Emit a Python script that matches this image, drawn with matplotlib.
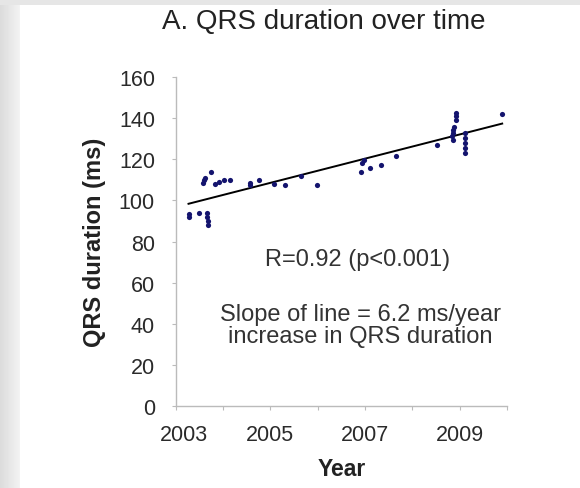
import numpy as np
import matplotlib
matplotlib.use("Agg")
import matplotlib.pyplot as plt
import matplotlib.transforms as mtransforms

# QRS duration readings (decimal year, ms)
years = [2003.27, 2003.28, 2003.50, 2003.66, 2003.67, 2003.68, 2003.68,
         2003.57, 2003.59, 2003.62, 2003.75, 2003.84, 2003.92, 2004.03, 2004.14,
         2004.56, 2004.58, 2004.75, 2005.07, 2005.31, 2005.64, 2005.98,
         2006.91, 2006.94, 2006.97, 2007.11, 2007.34, 2007.65, 2008.53,
         2008.93, 2008.93, 2008.93, 2008.88, 2008.86, 2008.85, 2008.84, 2008.85,
         2009.11, 2009.11, 2009.11, 2009.11, 2009.11, 2009.90]
qrs = [93.2, 92.0, 94.0, 94.0, 92.0, 90.0, 88.0,
       108.6, 110.0, 111.0, 113.7, 107.8, 108.9, 110.2, 109.9,
       107.3, 108.5, 109.9, 107.8, 107.3, 112.1, 107.3,
       113.7, 118.3, 119.9, 115.9, 117.5, 121.8, 127.2,
       142.6, 141.0, 139.3, 136.0, 134.5, 132.9, 131.2, 129.6,
       132.9, 130.4, 128.0, 125.6, 123.2, 142.2]

year_ticks = [2003, 2004, 2005, 2006, 2007, 2008, 2009, 2010]
year_labels = ["2003", "", "2005", "", "2007", "", "2009", ""]
qrs_ticks = [0, 20, 40, 60, 80, 100, 120, 140, 160]

plt.rcParams['font.family'] = ['Liberation Sans', 'DejaVu Sans']

fig = plt.figure(figsize=(5.8, 4.89), dpi=100)
fig.patch.set_facecolor('white')

# grey page border (left strip + top strip)
bg = fig.add_axes([0, 0, 1, 1], zorder=-10)
bg.set_axis_off()
grad = np.linspace(0.86, 0.95, 20)
bg.imshow(np.tile(grad, (2, 1)), cmap='gray', vmin=0, vmax=1, aspect='auto',
          extent=[0, 20 / 580, 0, 1], transform=bg.transAxes)
bg.add_patch(plt.Rectangle((0, 1 - 6 / 489), 1, 6 / 489, transform=bg.transAxes,
                           color='#e6e6e6', lw=0))
bg.set_xlim(0, 1)
bg.set_ylim(0, 1)

ax = fig.add_axes([0.303, 0.168, 0.571, 0.672])
ax.scatter(years, qrs, s=14, color='#14146e', zorder=3, linewidths=0)

# least-squares line through the points
coef = np.polyfit(years, qrs, 1)
xs = np.array([min(years), max(years)])
ax.plot(xs, np.polyval(coef, xs), color='black', lw=1.4, zorder=2)

ax.set_xlim(2003, 2010)
ax.set_ylim(0, 160)
ax.set_xticks(year_ticks)
ax.set_xticklabels(year_labels)
ax.set_yticks(qrs_ticks)
for side in ['top', 'right']:
    ax.spines[side].set_visible(False)
for side in ['left', 'bottom']:
    ax.spines[side].set_color('#bbbbbb')
    ax.spines[side].set_linewidth(1.0)
ax.tick_params(axis='both', colors='#bbbbbb', labelcolor='#2a2a2a',
               labelsize=15.5, length=3)
ax.tick_params(axis='y', pad=12)
ax.tick_params(axis='x', pad=10)

# first year label sits a bit right of its tick in the original
first = ax.get_xticklabels()[0]
first.set_transform(first.get_transform() +
                    mtransforms.ScaledTranslation(8 / 100, 0, fig.dpi_scale_trans))

ax.set_xlabel('Year', fontsize=16.5, fontweight='bold', color='#222222', labelpad=9)
ax.set_ylabel('QRS duration (ms)', fontsize=17, fontweight='bold', color='#222222',
              labelpad=9)

ax.text(0.548, 0.447, 'R=0.92 (p<0.001)', transform=ax.transAxes, ha='center',
        va='center', fontsize=17, color='#333333')
ax.text(0.557, 0.246, 'Slope of line = 6.2 ms/year\nincrease in QRS duration',
        transform=ax.transAxes, ha='center', va='center', fontsize=17,
        color='#333333', linespacing=1.0)

fig.text(0.558, 0.955, 'A. QRS duration over time', ha='center', va='center',
         fontsize=20, color='#222222')

fig.savefig('out.png', dpi=100)
